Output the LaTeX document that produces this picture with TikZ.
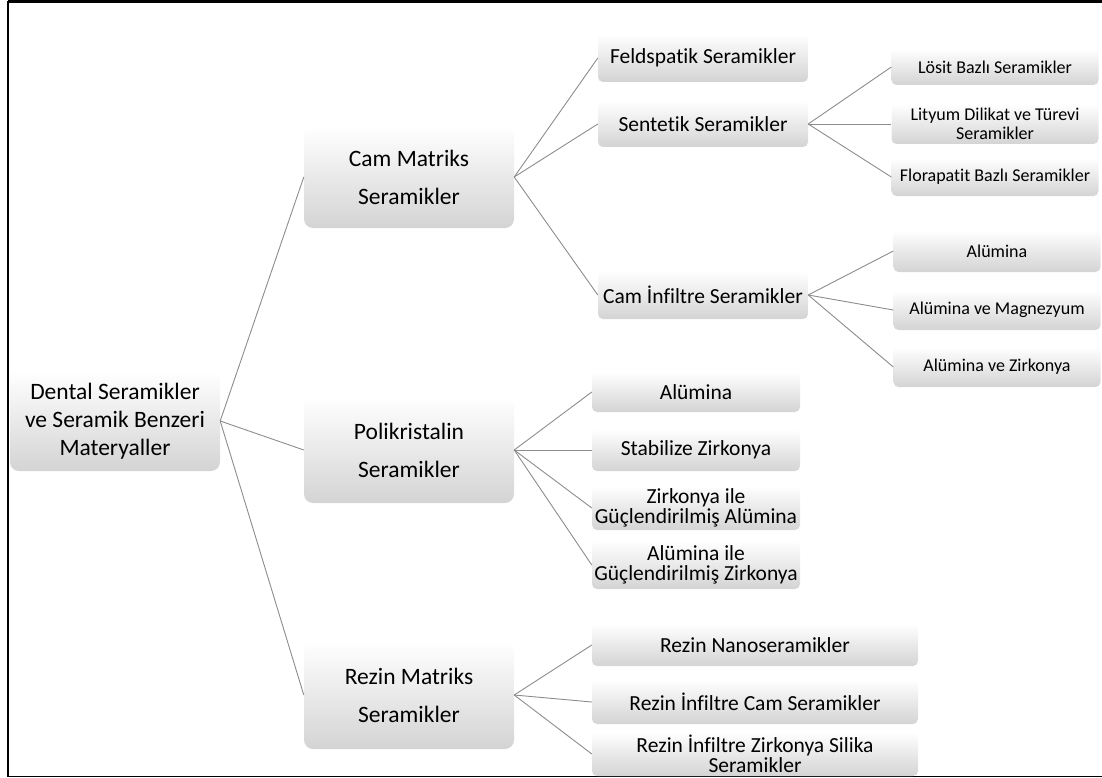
\documentclass[tikz,border=0pt]{standalone}
\usepackage{fontspec}
\setmainfont{Carlito}[Ligatures=NoCommon]
\begin{document}
\begin{tikzpicture}[x=1pt,y=-1pt,
    box/.style={rounded corners=5pt,top color=white,middle color=white,bottom color=black!17,inner sep=0pt,align=center},
    topbox/.style={box,rounded corners=9pt,minimum width=210,minimum height=102,font=\fontsize{23.5}{38}\selectfont},
    subbox/.style={box,minimum width=210,minimum height=46,font=\fontsize{21.5}{20}\selectfont},
    leafbox/.style={box,minimum width=207,minimum height=40,font=\fontsize{18}{19}\selectfont},
    link/.style={draw=black!45,line width=0.9pt}]
  \useasboundingbox (0,0) rectangle (1102,778);
  \draw[line width=3pt] (1102,2) -- (8,2);
  \draw[line width=2pt] (8,1) -- (8,777);
  \draw[line width=1.5pt] (8,776.5) -- (1102,776.5);

  \node[topbox,font=\fontsize{23.5}{28}\selectfont,minimum height=100] (root) at (115,421)
    {Dental Seramikler\\ve Seramik Benzeri\\Materyaller};

  \node[topbox] (cam) at (409,177) {Cam Matriks\\Seramikler};
  \node[topbox,minimum height=106] (poli) at (409,450) {Polikristalin\\Seramikler};
  \node[topbox,minimum height=108] (rezin) at (409,695) {Rezin Matriks\\Seramikler};

  \node[subbox,minimum height=48] (feld) at (703,58) {Feldspatik Seramikler};
  \node[subbox] (sent) at (703,124) {Sentetik Seramikler};
  \node[subbox,minimum height=48] (caminf) at (703,295) {Cam İnfiltre Seramikler};

  \node[leafbox,minimum height=36] (losit) at (995,67) {Lösit Bazlı Seramikler};
  \node[leafbox] (lityum) at (995,124) {Lityum Dilikat ve Türevi\\Seramikler};
  \node[leafbox,minimum height=38] (flora) at (995,177) {Florapatit Bazlı Seramikler};

  \node[leafbox,minimum height=42] (alu) at (997,251) {Alümina};
  \node[leafbox] (alumag) at (997,310) {Alümina ve Magnezyum};
  \node[leafbox] (aluzir) at (997,367) {Alümina ve Zirkonya};

  \node[subbox,minimum width=208,minimum height=40] (palu) at (696,392) {Alümina};
  \node[subbox,minimum width=208,minimum height=42] (stab) at (696,450) {Stabilize Zirkonya};
  \node[subbox,minimum width=208,minimum height=44] (zga) at (696,508) {Zirkonya ile\\Güçlendirilmiş Alümina};
  \node[subbox,minimum width=208,minimum height=48] (agz) at (696,565) {Alümina ile\\Güçlendirilmiş Zirkonya};

  \node[subbox,minimum width=326,minimum height=42] (rnano) at (755,645) {Rezin Nanoseramikler};
  \node[subbox,minimum width=326,minimum height=44] (rcam) at (755,702) {Rezin İnfiltre Cam Seramikler};
  \node[subbox,minimum width=326,minimum height=44] (rzs) at (755,754) {Rezin İnfiltre Zirkonya Silika\\Seramikler};

  \begin{scope}[link]
    \draw (root.east) to (cam.west);
    \draw (root.east) to (poli.west);
    \draw (root.east) to (rezin.west);
    \draw (cam.east) to (feld.west);
    \draw (cam.east) to (sent.west);
    \draw (cam.east) to (caminf.west);
    \draw (sent.east) to (losit.west);
    \draw (sent.east) to (lityum.west);
    \draw (sent.east) to (flora.west);
    \draw (caminf.east) to (alu.west);
    \draw (caminf.east) to (alumag.west);
    \draw (caminf.east) to (aluzir.west);
    \draw (poli.east) to (palu.west);
    \draw (poli.east) to (stab.west);
    \draw (poli.east) to (zga.west);
    \draw (poli.east) to (agz.west);
    \draw (rezin.east) to (rnano.west);
    \draw (rezin.east) to (rcam.west);
    \draw (rezin.east) to (rzs.west);
  \end{scope}
\end{tikzpicture}
\end{document}
